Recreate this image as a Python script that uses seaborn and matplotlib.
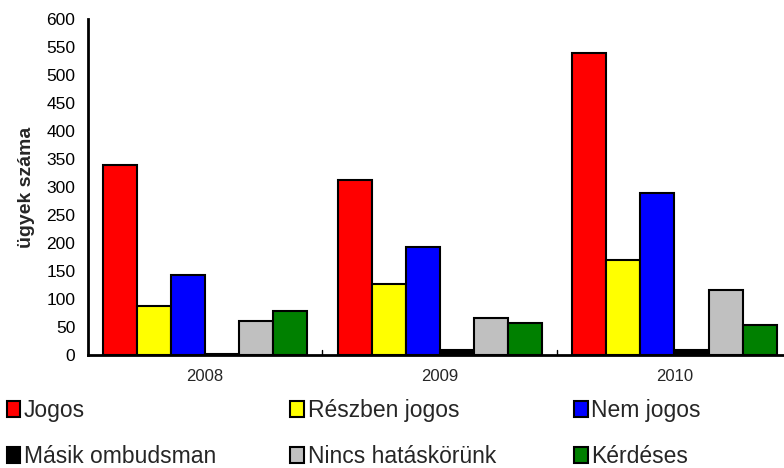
import pandas as pd
import numpy as np
import matplotlib.pyplot as plt
import seaborn as sns
from matplotlib.patches import Patch

# adatok
evek = ["2008", "2009", "2010"]
kategoriak = ["Jogos", "Részben jogos", "Nem jogos",
              "Másik ombudsman", "Nincs hatáskörünk", "Kérdéses"]
jogos = [340, 312, 539]
reszben_jogos = [88, 126, 170]
nem_jogos = [143, 193, 289]
masik_ombudsman = [2, 9, 9]
nincs_hataskor = [61, 66, 116]
kerdeses = [79, 57, 54]
szinek = ["#ff0000", "#ffff00", "#0000ff", "#000000", "#c0c0c0", "#008000"]

ertekek = [jogos, reszben_jogos, nem_jogos, masik_ombudsman, nincs_hataskor, kerdeses]
df = pd.DataFrame(
    [(ev, kat, v[i]) for kat, v in zip(kategoriak, ertekek) for i, ev in enumerate(evek)],
    columns=["ev", "kategoria", "ugyek"],
)

sns.set_style("white")
plt.rcParams["font.family"] = ["Liberation Sans", "DejaVu Sans"]

fig = plt.figure(figsize=(7.84, 4.68), dpi=100)
ax = fig.add_axes([0.112, 0.2415, 0.895, 0.718])

sns.barplot(data=df, x="ev", y="ugyek", hue="kategoria", hue_order=kategoriak,
            palette=szinek, width=0.87, edgecolor="black", linewidth=1.5,
            saturation=1, legend=False, ax=ax)

ax.set_ylim(0, 600)
ax.set_yticks(np.arange(0, 601, 50))
ax.set_xlim(-0.5, 2.49)
ax.set_xlabel("")
ax.set_ylabel("ügyek száma", fontsize=14, fontweight="bold", labelpad=8)
ax.tick_params(axis="y", direction="out", length=6, width=2, labelsize=12.5, pad=3, colors="black")
ax.tick_params(axis="x", length=0, labelsize=12, pad=10)
# kis jelek a csoportok között
for xpos in [0.5, 1.5]:
    ax.plot([xpos, xpos], [0, 8], color="black", lw=1, clip_on=False)

for s in ["top", "right"]:
    ax.spines[s].set_visible(False)
for s in ["left", "bottom"]:
    ax.spines[s].set_linewidth(2)
    ax.spines[s].set_color("black")

# jelmagyarázat: három oszlop, soronként balról jobbra
handles = [Patch(facecolor=c, edgecolor="black", linewidth=1.5) for c in szinek]
for col, x0 in enumerate([-0.012, 0.350, 0.712]):
    idx = [col, col + 3]
    fig.legend([handles[i] for i in idx], [kategoriak[i] for i in idx],
               loc="lower left", bbox_to_anchor=(x0, -0.035), ncol=1, frameon=False,
               fontsize=16.5, handlelength=0.6, handleheight=0.7,
               handletextpad=0.15, labelspacing=1.0, borderaxespad=0.3)

plt.savefig("out.png", dpi=100)
